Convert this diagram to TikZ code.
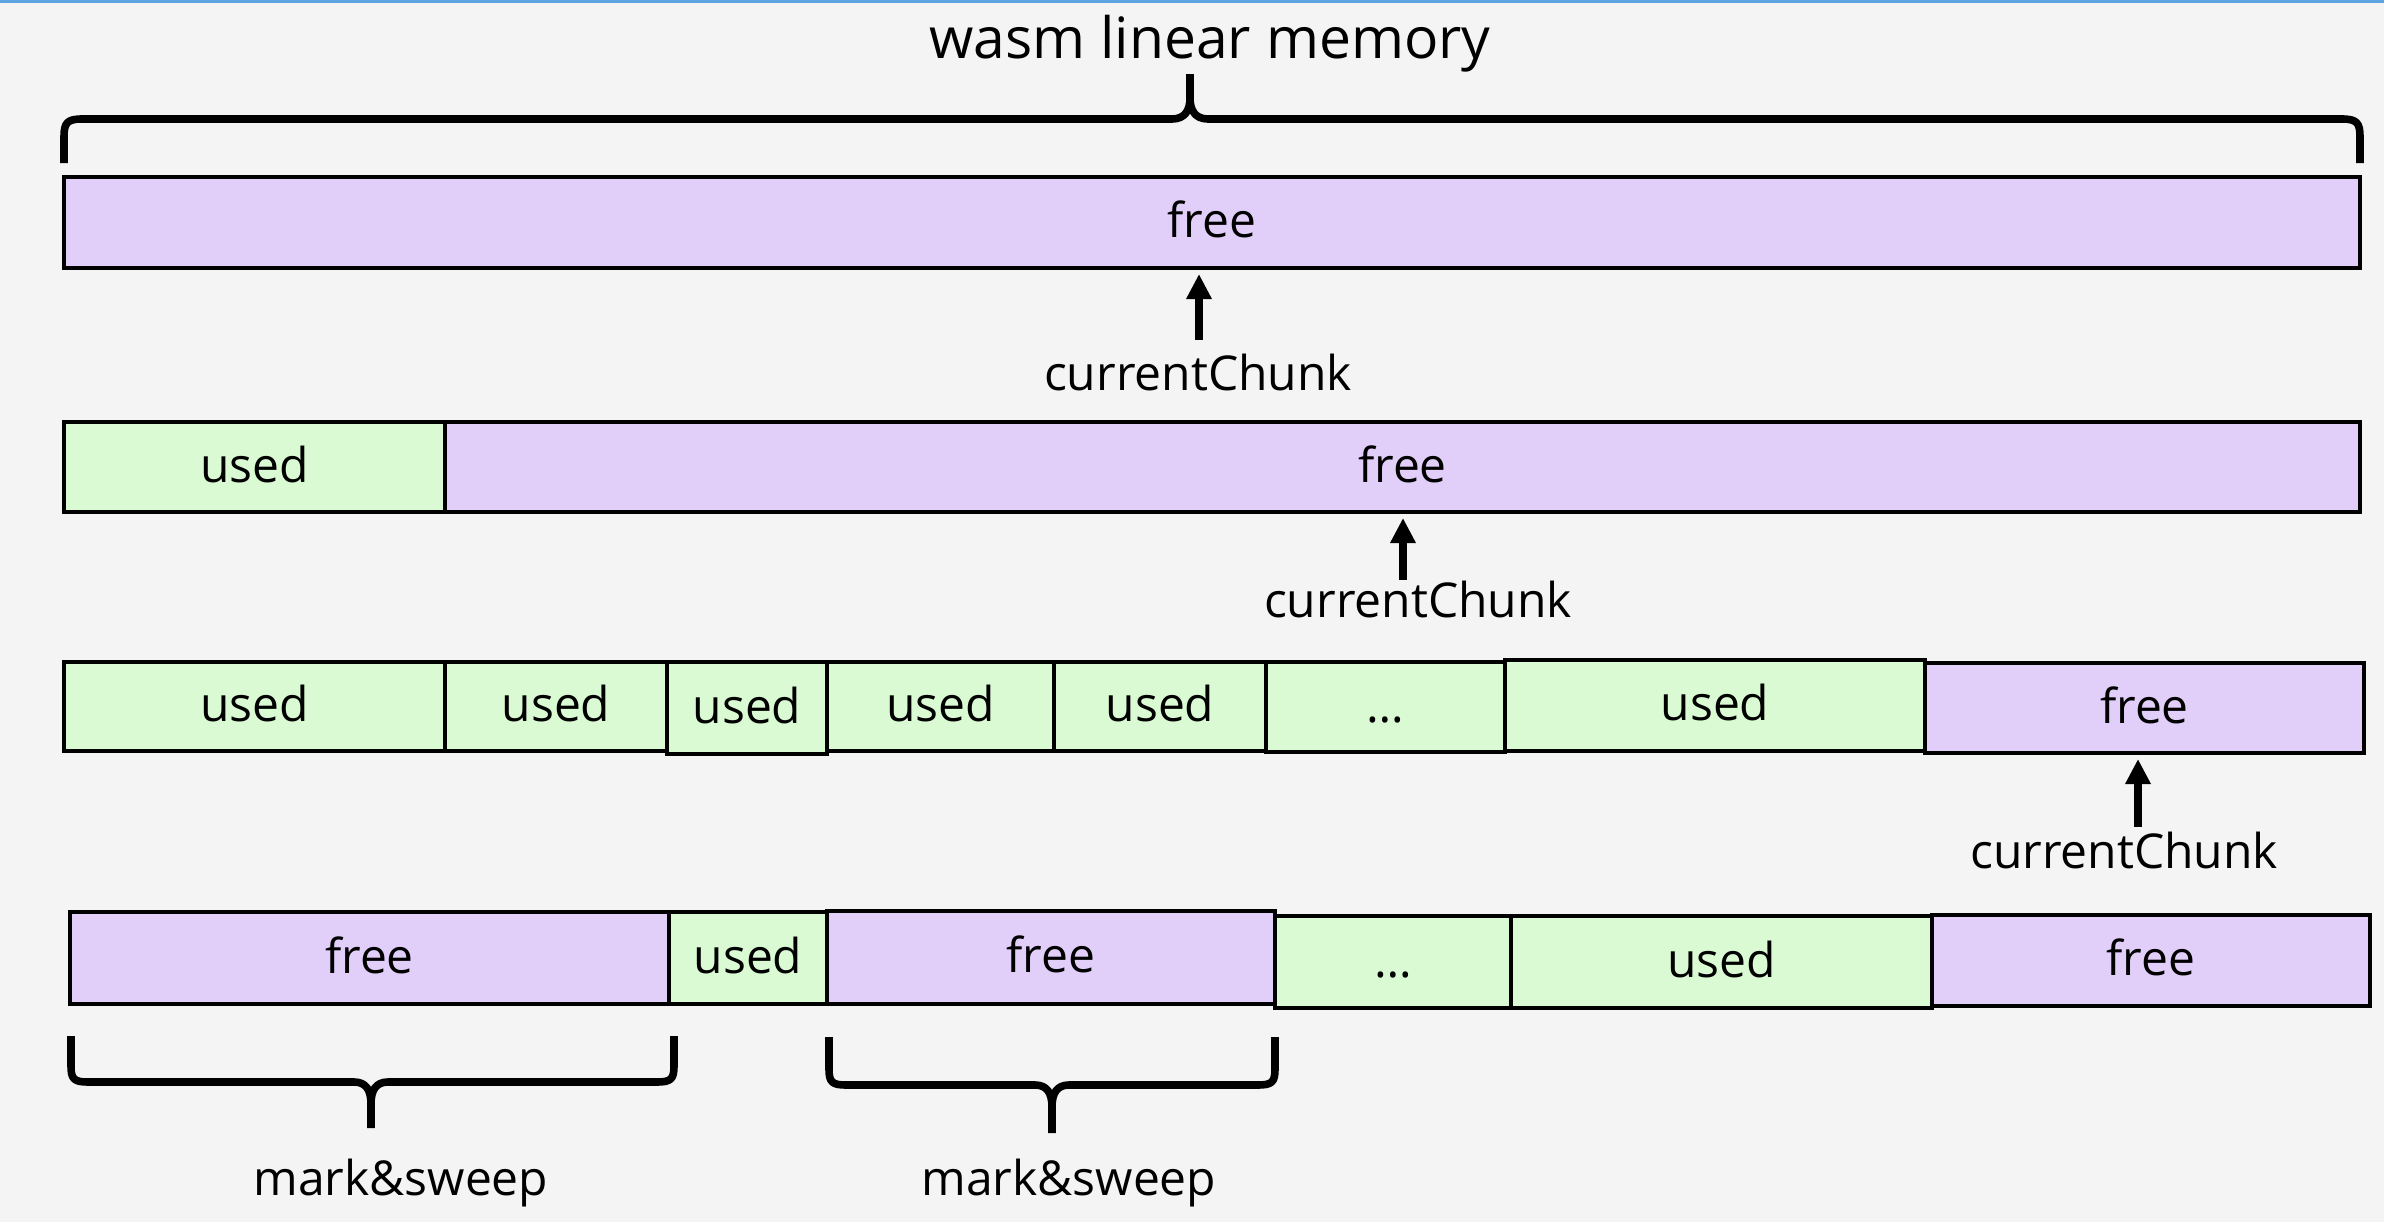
\documentclass[tikz,border=0pt]{standalone}
\usepackage{fontspec}
\setmainfont{Open Sans}
\usetikzlibrary{fit,arrows.meta}
\definecolor{bgc}{HTML}{F4F4F4}
\definecolor{freec}{HTML}{E1CFFA}
\definecolor{usedc}{HTML}{D9FAD2}
\definecolor{toplinec}{HTML}{5FA4E2}
\newcommand\memcell[4]{%
  \node[#2, fit={#3}] (#1) {};
  \node[lbl] (#1t) at ([yshift=-7.5pt]#1.center) {#4};}
\begin{document}
\begin{tikzpicture}[x=0.5pt,y=-0.5pt,
  cellbox/.style={draw=black, line width=2pt, inner sep=0pt},
  freebox/.style={cellbox, fill=freec},
  usedbox/.style={cellbox, fill=usedc},
  lbl/.style={font=\fontsize{24}{28}\selectfont, anchor=base, inner sep=0pt},
  ptr/.style={line width=4pt, -{Triangle[width=12pt,length=12.5pt]}, shorten >=2pt},
  bracepath/.style={line width=3.8pt, line cap=butt, line join=round}]
% canvas
\fill[bgc] (0,0) rectangle (2384,1222);
\useasboundingbox (0,0) rectangle (2384,1222);
\fill[toplinec] (0,0) rectangle (2384,3);

% title and top brace
\node[lbl, font=\fontsize{28.5}{34}\selectfont] (title) at (1210,58) {wasm linear memory};
\draw[bracepath] (64,163) -- (64,137) .. controls (64,123) and (67,119) .. (82,119) -- (1172,119)
  .. controls (1185,119) and (1190,110) .. (1190,98) -- (1190,74);
\draw[bracepath] (1190,98) .. controls (1190,110) and (1195,119) .. (1208,119) -- (2342,119)
  .. controls (2357,119) and (2360,123) .. (2360,137) -- (2360,163);

% row 1
\memcell{r1}{freebox}{(64,177) (2360,268)}{free}
\coordinate (a1) at (1199,340);
\draw[ptr] (a1) -- (a1 |- r1.south);
\node[lbl] (cc1) at (1198,390) {currentChunk};

% row 2
\memcell{r2a}{usedbox}{(64,422) (445,512)}{used}
\memcell{r2b}{freebox}{(445,422) (2360,512)}{free}
\coordinate (a2) at (1403,580);
\draw[ptr] (a2) -- (a2 |- r2b.south);
\node[lbl] (cc2) at (1418,617) {currentChunk};

% row 3
\memcell{r3a}{usedbox}{(64,662) (445,751)}{used}
\memcell{r3b}{usedbox}{(445,662) (667,751)}{used}
\memcell{r3c}{usedbox}{(667,662) (827,754)}{used}
\memcell{r3d}{usedbox}{(827,662) (1054,751)}{used}
\memcell{r3e}{usedbox}{(1054,662) (1266,751)}{used}
\memcell{r3f}{usedbox}{(1266,662) (1505,752)}{…}
\memcell{r3g}{usedbox}{(1505,660) (1925,751)}{used}
\memcell{r3h}{freebox}{(1925,663) (2364,753)}{free}
\coordinate (a3) at (2138,827);
\draw[ptr] (a3) -- (a3 |- r3h.south);
\node[lbl] (cc3) at (2124,868) {currentChunk};

% row 4
\memcell{r4a}{freebox}{(70,912) (669,1004)}{free}
\memcell{r4b}{usedbox}{(669,912) (827,1004)}{used}
\memcell{r4c}{freebox}{(827,911) (1275,1004)}{free}
\memcell{r4d}{usedbox}{(1275,916) (1511,1008)}{…}
\memcell{r4e}{usedbox}{(1511,916) (1932,1008)}{used}
\memcell{r4f}{freebox}{(1932,915) (2370,1006)}{free}

% bottom braces
\draw[bracepath] (71,1036) -- (71,1066) .. controls (71,1079) and (74,1082) .. (88,1082) -- (354,1082)
  .. controls (366,1082) and (371,1090) .. (371,1104) -- (371,1128);
\draw[bracepath] (371,1104) .. controls (371,1090) and (376,1082) .. (388,1082) -- (657,1082)
  .. controls (671,1082) and (674,1079) .. (674,1066) -- (674,1036);
\node[lbl] (ms1) at (401,1195) {mark\&sweep};

\draw[bracepath] (829,1037) -- (829,1069) .. controls (829,1082) and (832,1085) .. (846,1085) -- (1035,1085)
  .. controls (1047,1085) and (1052,1093) .. (1052,1107) -- (1052,1133);
\draw[bracepath] (1052,1107) .. controls (1052,1093) and (1057,1085) .. (1069,1085) -- (1258,1085)
  .. controls (1272,1085) and (1275,1082) .. (1275,1069) -- (1275,1037);
\node[lbl] (ms2) at (1069,1195) {mark\&sweep};
\end{tikzpicture}
\end{document}
